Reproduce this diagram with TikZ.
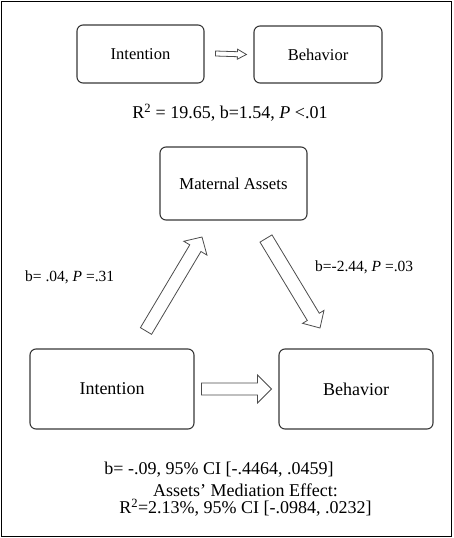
\documentclass[tikz,border=0pt]{standalone}
\usepackage{fontspec}
\setmainfont{Liberation Serif}
\usetikzlibrary{calc}
\tikzset{
  box/.style={draw=black!78, line width=1.1pt, rounded corners=6pt, inner sep=0pt},
  blockline/.style={draw=black!70, line width=0.8pt, line join=miter, fill=white},
  lbl/.style={inner sep=0pt, text=black},
}
\newcommand\blockarrow[5]{%
  \path coordinate (hb) at ($(#2)!#5!(#1)$);
  \draw[blockline] ($(#1)!#3!90:(#2)$) -- ($(hb)!#3!90:(#2)$) -- ($(hb)!#4!90:(#2)$) -- (#2)
    -- ($(hb)!#4!-90:(#2)$) -- ($(hb)!#3!-90:(#2)$) -- ($(#1)!#3!-90:(#2)$) -- cycle;
}
\begin{document}
\begin{tikzpicture}[x=1pt, y=-1pt]
\useasboundingbox (0,0) rectangle (453,538);
\draw[black, line width=1.3pt] (1.5,1.5) rectangle (451.5,536.5);

% top model
\node[box, minimum width=127pt, minimum height=58pt, font=\fontsize{16.5}{18}\selectfont] (ti) at (140.5,54) {Intention};
\node[box, minimum width=128pt, minimum height=57pt, font=\fontsize{16.5}{18}\selectfont] (tb) at (318,54.5) {Behavior};
\coordinate (tas) at ($(ti.east)+(11pt,0.5pt)$);
\coordinate (tae) at ($(tb.west)+(-7pt,0pt)$);
\blockarrow{tas}{tae}{2.5pt}{5pt}{9pt}
\node[lbl, font=\fontsize{18}{20}\selectfont] (tr) at (230,113) {R\textsuperscript{2} = 19.65, b=1.54, \textit{P} <.01};

% mediation model
\node[box, minimum width=147pt, minimum height=73pt, font=\fontsize{16.7}{18}\selectfont] (ma) at (233.5,183.5) {Maternal Assets};
\node[box, minimum width=164pt, minimum height=80pt, font=\fontsize{18}{20}\selectfont] (bi) at (112,389) {Intention};
\node[box, minimum width=154pt, minimum height=80pt, font=\fontsize{18}{20}\selectfont] (bb) at (356,389) {Behavior};

\coordinate (las) at (146,331);
\coordinate (lae) at (202,237);
\blockarrow{las}{lae}{6.5pt}{13.5pt}{13pt}
\coordinate (ras) at (266,238.5);
\coordinate (rae) at (320,328);
\blockarrow{ras}{rae}{7pt}{12.5pt}{13pt}
\coordinate (bas) at ($(bi.east)+(7pt,0pt)$);
\coordinate (bae) at ($(bb.west)+(-7pt,0pt)$);
\blockarrow{bas}{bae}{6pt}{14pt}{14pt}

\node[lbl, anchor=west, font=\fontsize{15.5}{17}\selectfont] (la) at (25,277) {b= .04, \textit{P} =.31};
\node[lbl, anchor=west, font=\fontsize{15.5}{17}\selectfont] (ra) at (315,267) {b=-2.44, \textit{P} =.03};

\node[lbl, font=\fontsize{18}{20}\selectfont] (c1) at (219,470) {b= -.09, 95\% CI [-.4464, .0459]};
\node[lbl, font=\fontsize{18}{20}\selectfont] (c2) at (245.5,490) {Assets’ Mediation Effect:};
\node[lbl, font=\fontsize{18}{20}\selectfont] (c3) at (245.5,508) {R\textsuperscript{2}=2.13\%, 95\% CI [-.0984, .0232]};
\end{tikzpicture}
\end{document}
